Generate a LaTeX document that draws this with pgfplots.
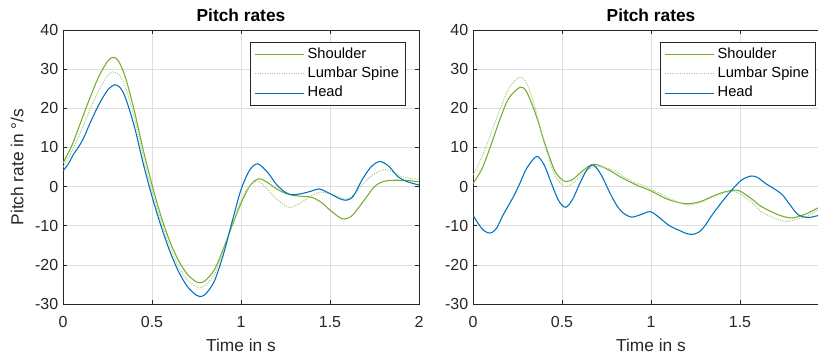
\documentclass[border=0pt]{standalone}
\usepackage{fontspec}
\setmainfont{Liberation Sans}
\usepackage{pgfplots}
\pgfplotsset{compat=1.18}
\definecolor{shg}{RGB}{119,172,48}
\definecolor{lug}{RGB}{170,205,125}
\definecolor{hb}{RGB}{0,114,189}
\definecolor{gridc}{RGB}{222,222,222}
\definecolor{axc}{RGB}{38,38,38}
\pgfplotsset{myax/.style={
  scale only axis, width=267pt, height=205.5pt,
  xmin=0, xmax=2, ymin=-30, ymax=40,
  xtick={0,0.5,1,1.5,2},
  ytick={-30,-20,-10,0,10,20,30,40},
  yticklabels={-30,-20,-10,0,10,20,30,40},
  grid=major, major grid style={gridc, line width=0.5pt},
  axis line style={axc, line width=0.5pt},
  tick style={axc, line width=0.5pt},
  tick align=inside, major tick length=3pt,
  tick label style={font=\fontsize{12}{14}\selectfont, text=axc},
  xticklabel style={yshift=-5.5pt},
  label style={font=\fontsize{13}{15}\selectfont, text=axc},
  xlabel style={yshift=-1.5pt},
  title style={font=\bfseries\fontsize{13}{15}\selectfont, yshift=-3pt},
  title={Pitch rates},
  xlabel={Time in s},
  legend cell align=left,
  legend image code/.code={\draw[#1] (0pt,0pt) -- (37pt,0pt);},
  legend style={at={(1,1)}, anchor=north east, xshift=-9.75pt, yshift=-8.8pt,
    draw=axc, line width=0.5pt, font=\fontsize{11}{13}\selectfont,
    nodes={inner sep=2pt, text height=8pt, text depth=2.5pt},
    inner xsep=3pt, inner ysep=2pt},
  every axis plot/.append style={line width=0.8pt, smooth},
}}
\begin{document}
\begin{tikzpicture}
\begin{axis}[myax, at={(47.25pt,37.5pt)}, anchor=south west,
  xticklabels={0,0.5,1,1.5,2},
  ylabel={Pitch rate in °/s},
  ylabel style={at={(axis description cs:-0.129,0.5)}, rotate=0, anchor=center}]
\addplot[shg] coordinates {
(0,6.0)(0.05,10.5)(0.10,16.5)(0.15,22.5)(0.20,28.0)(0.25,32.0)(0.28,33.0)(0.31,32.2)(0.35,28.0)(0.40,19.5)(0.45,9.5)(0.50,0.5)(0.55,-7.5)(0.60,-14.0)(0.65,-19.0)(0.70,-22.5)(0.75,-24.4)(0.77,-24.6)(0.80,-24.0)(0.85,-21.3)(0.90,-16.0)(0.95,-10.0)(1.00,-4.3)(1.05,0.2)(1.10,2.0)(1.15,1.0)(1.20,-0.6)(1.25,-1.7)(1.30,-2.3)(1.35,-2.5)(1.40,-2.8)(1.45,-4.0)(1.50,-6.0)(1.55,-7.8)(1.58,-8.3)(1.62,-7.6)(1.65,-6.0)(1.70,-3.0)(1.75,0.0)(1.80,1.3)(1.85,1.6)(1.90,1.6)(1.95,1.5)(2.00,1.2)};
\addlegendentry{Shoulder}
\addplot[lug, densely dotted] coordinates {
(0,5.0)(0.05,9.0)(0.10,14.0)(0.15,19.5)(0.20,24.5)(0.25,28.3)(0.285,29.3)(0.32,28.3)(0.35,25.5)(0.40,17.8)(0.45,7.8)(0.50,-1.0)(0.55,-8.8)(0.60,-15.3)(0.65,-20.5)(0.70,-24.0)(0.75,-25.6)(0.77,-25.8)(0.80,-25.2)(0.85,-22.5)(0.90,-16.5)(0.95,-9.8)(1.00,-3.5)(1.05,0.3)(1.10,1.3)(1.15,-0.8)(1.20,-3.2)(1.27,-5.3)(1.33,-4.3)(1.40,-2.2)(1.45,-1.4)(1.52,-2.1)(1.59,-3.2)(1.64,-1.8)(1.68,0.4)(1.74,3.0)(1.81,4.3)(1.86,3.6)(1.90,2.6)(1.95,2.1)(2.00,1.9)};
\addlegendentry{Lumbar Spine}
\addplot[hb] coordinates {
(0,4.0)(0.03,5.8)(0.06,8.3)(0.09,10.3)(0.12,12.8)(0.15,16.0)(0.20,20.8)(0.25,24.6)(0.29,26.0)(0.32,25.3)(0.35,22.8)(0.40,15.5)(0.45,6.0)(0.50,-2.5)(0.55,-10.0)(0.60,-16.5)(0.65,-21.8)(0.70,-25.6)(0.75,-27.8)(0.77,-28.1)(0.80,-27.5)(0.85,-24.2)(0.90,-17.5)(0.95,-9.0)(1.00,-0.8)(1.05,4.3)(1.095,5.8)(1.15,3.6)(1.20,0.5)(1.25,-1.5)(1.29,-2.1)(1.35,-1.7)(1.40,-1.1)(1.44,-0.6)(1.50,-1.8)(1.55,-3.0)(1.59,-3.5)(1.63,-2.5)(1.68,1.7)(1.73,5.0)(1.78,6.4)(1.83,5.2)(1.88,2.6)(1.93,1.3)(2.00,0.4)};
\addlegendentry{Head}
\end{axis}
\begin{axis}[myax, at={(354.75pt,37.5pt)}, anchor=south west,
  xticklabels={0,0.5,1,1.5,{}}]
\addplot[shg] coordinates {
(0,0.8)(0.05,4.5)(0.10,10.5)(0.15,17.0)(0.20,22.5)(0.265,25.4)(0.30,24.3)(0.34,20.0)(0.37,16.0)(0.40,11.5)(0.45,5.0)(0.48,2.6)(0.52,1.3)(0.56,1.8)(0.60,3.4)(0.65,5.2)(0.68,5.7)(0.72,5.2)(0.78,3.8)(0.83,2.4)(0.90,0.8)(0.95,-0.2)(1.00,-1.1)(1.08,-3.0)(1.15,-4.0)(1.21,-4.4)(1.28,-3.8)(1.34,-2.6)(1.41,-1.4)(1.475,-0.9)(1.51,-1.4)(1.57,-3.3)(1.62,-5.1)(1.715,-7.2)(1.79,-8.0)(1.865,-7.1)(1.94,-5.4)(2.0,-4.0)};
\addlegendentry{Shoulder}
\addplot[lug, densely dotted] coordinates {
(0,3.0)(0.05,7.5)(0.10,13.5)(0.15,19.5)(0.20,25.0)(0.26,27.9)(0.30,26.5)(0.34,21.5)(0.37,16.5)(0.40,11.0)(0.45,4.0)(0.48,1.4)(0.52,0.0)(0.56,0.8)(0.60,2.5)(0.65,4.5)(0.69,5.2)(0.74,4.8)(0.80,4.0)(0.83,3.0)(0.90,1.2)(0.95,0.4)(1.00,-0.6)(1.08,-2.5)(1.15,-4.0)(1.21,-4.7)(1.28,-4.0)(1.34,-2.8)(1.41,-1.6)(1.47,-1.3)(1.52,-2.4)(1.57,-4.2)(1.62,-6.4)(1.70,-8.2)(1.76,-8.9)(1.83,-8.2)(1.88,-7.5)(1.94,-6.0)(2.0,-5.0)};
\addlegendentry{Lumbar Spine}
\addplot[hb] coordinates {
(0,-7.3)(0.03,-9.5)(0.06,-11.2)(0.096,-11.9)(0.13,-10.8)(0.17,-7.2)(0.227,-2.6)(0.264,0.9)(0.302,4.7)(0.358,7.7)(0.40,5.5)(0.433,1.7)(0.48,-3.5)(0.52,-5.3)(0.56,-3.2)(0.601,0.9)(0.64,4.3)(0.676,5.5)(0.72,3.0)(0.77,-1.7)(0.81,-5.0)(0.845,-6.8)(0.891,-7.8)(0.94,-7.2)(0.994,-6.4)(1.041,-7.7)(1.10,-9.9)(1.154,-11.1)(1.20,-12.0)(1.236,-12.2)(1.27,-11.6)(1.30,-10.2)(1.341,-7.4)(1.397,-4.0)(1.463,-0.4)(1.51,1.7)(1.562,2.7)(1.60,2.3)(1.64,0.9)(1.70,-0.8)(1.74,-2.2)(1.78,-4.6)(1.827,-7.2)(1.884,-7.9)(1.94,-7.4)(2.0,-7.0)};
\addlegendentry{Head}
\end{axis}
\pgfresetboundingbox
\useasboundingbox (0pt,0pt) rectangle (613.5pt,265.5pt);
\end{tikzpicture}
\end{document}
